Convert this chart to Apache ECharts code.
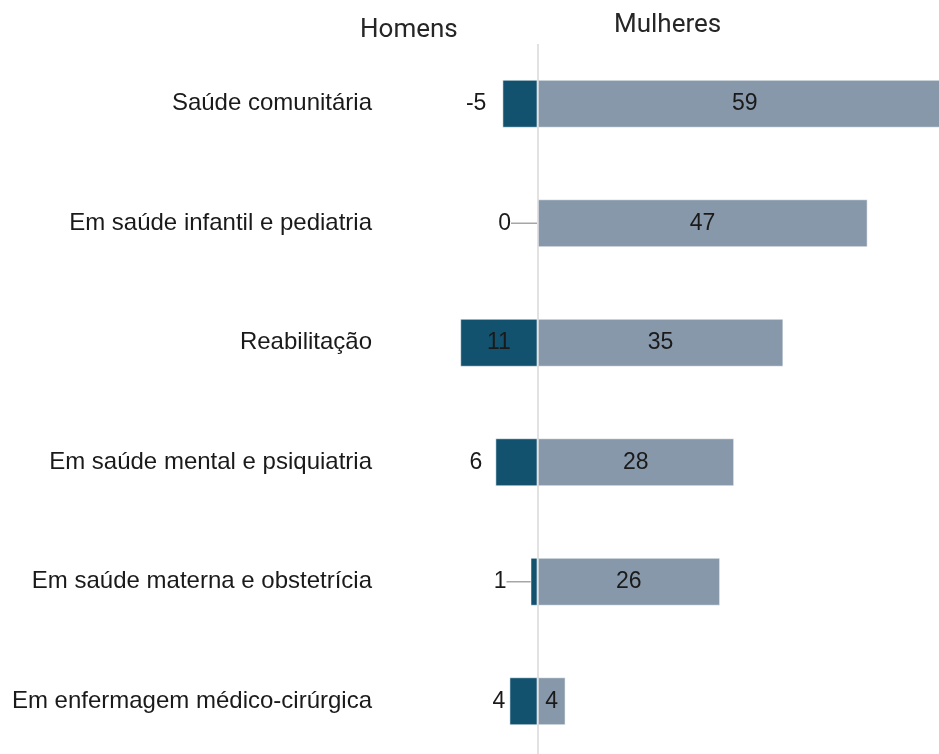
<!DOCTYPE html>
<html>
<head>
<meta charset="utf-8">
<script src="https://cdn.jsdelivr.net/npm/echarts@6/dist/echarts.min.js"></script>
<style>
  html, body { margin: 0; padding: 0; background: #fff; }
  #chart { width: 939px; height: 754px; }
</style>
</head>
<body>
<div id="chart"></div>
<script>
    // categorias (de cima para baixo)
    const categorias = [
        'Saúde comunitária',
        'Em saúde infantil e pediatria',
        'Reabilitação',
        'Em saúde mental e psiquiatria',
        'Em saúde materna e obstetrícia',
        'Em enfermagem médico-cirúrgica'
    ];
    const homens = [5, 0, 11, 6, 1, 4];
    const homensRotulos = ['-5', '0', '11', '6', '1', '4'];
    const mulheres = [59, 47, 35, 28, 26, 4];

    const corHomens = '#12526f';
    const corMulheres = '#8798aa';

    // posição dos rótulos dos homens, como no original
    const rotuloHomens = [
        { position: 'left', distance: 16 },
        { position: 'left', distance: 8, dx: -18, line: true },
        { position: 'inside' },
        { position: 'left', distance: 13 },
        { position: 'left', distance: 8, dx: -16, line: true },
        { position: 'left', distance: 4 }
    ];

    const chart = echarts.init(document.getElementById('chart'));

    const option = {
        animation: false,
        textStyle: { fontFamily: 'Liberation Sans' },
        graphic: [
            {
                type: 'text', left: 360, top: 17,
                style: { text: 'Homens', fontFamily: 'Roboto', fontSize: 26, fill: '#262626' }
            },
            {
                type: 'text', left: 614, top: 12,
                style: { text: 'Mulheres', fontFamily: 'Roboto', fontSize: 26, fill: '#262626' }
            }
        ],
        // a grelha passa da margem direita: a barra de 59 fica cortada, como no original
        grid: {
            left: 397, top: 44, width: 562, height: 717,
            containLabel: false,
            outerBoundsMode: 'none'
        },
        xAxis: {
            type: 'value',
            min: -20,
            max: 60,
            show: false
        },
        yAxis: {
            type: 'category',
            inverse: true,
            data: categorias,
            axisLine: { show: false },
            axisTick: { show: false },
            axisLabel: {
                margin: 25,
                fontSize: 24,
                color: '#1a1a1a',
                fontFamily: 'Liberation Sans'
            }
        },
        series: [
            {
                name: 'Homens',
                type: 'bar',
                barWidth: 48,
                barGap: '-100%',
                data: homens.map((v, i) => ({
                    value: -v,
                    label: {
                        position: rotuloHomens[i].position,
                        distance: rotuloHomens[i].distance || 5
                    },
                    labelLine: { show: !!rotuloHomens[i].line }
                })),
                itemStyle: { color: corHomens, borderColor: 'rgba(255,255,255,0.55)', borderWidth: 1 },
                label: {
                    show: true,
                    fontSize: 23,
                    color: '#1a1a1a',
                    formatter: p => homensRotulos[p.dataIndex]
                },
                labelLine: {
                    lineStyle: { color: '#a6a6a6', width: 1.5 }
                },
                labelLayout: p => {
                    const r = rotuloHomens[p.dataIndex];
                    return r.dx ? { dx: r.dx } : {};
                },
                markLine: {
                    silent: true,
                    symbol: 'none',
                    label: { show: false },
                    lineStyle: { color: '#d9d9d9', type: 'solid', width: 1.5 },
                    data: [{ xAxis: 0 }]
                },
                z: 3
            },
            {
                name: 'Mulheres',
                type: 'bar',
                barWidth: 48,
                data: mulheres,
                itemStyle: { color: corMulheres, borderColor: 'rgba(255,255,255,0.55)', borderWidth: 1 },
                label: {
                    show: true,
                    position: 'inside',
                    fontSize: 23,
                    color: '#1a1a1a'
                },
                z: 2
            }
        ]
    };

    chart.setOption(option);
</script>
</body>
</html>
